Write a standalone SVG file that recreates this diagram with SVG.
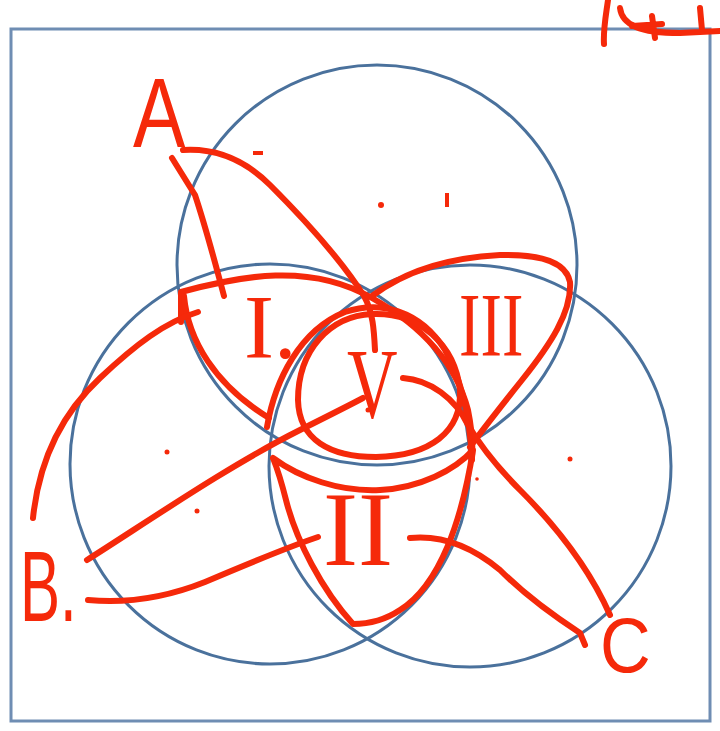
<svg xmlns="http://www.w3.org/2000/svg" width="720" height="731" viewBox="0 0 720 731">
<style>
.frame{fill:none;stroke:#6f8db3;stroke-width:3}
.set{fill:none;stroke:#4a719c;stroke-width:3}
.ink{fill:none;stroke:#f5290a;stroke-width:6;stroke-linecap:round;stroke-linejoin:round}
.dot{fill:#f5290a}
.lbl{fill:#f5290a;font-family:"Liberation Sans",Arial,sans-serif}
.num{fill:#f5290a;font-family:"Liberation Serif","Times New Roman",serif}
</style>
<rect width="720" height="731" fill="#ffffff"/>
<rect class="frame" x="11" y="29" width="699" height="692"/>
<g id="sets">
<circle id="set-A" class="set" cx="377" cy="265" r="200"/>
<circle id="set-B" class="set" cx="270" cy="464" r="200"/>
<circle id="set-C" class="set" cx="470" cy="466" r="201"/>
</g>
<g id="strokes">
<path class="ink" d="M183,150 C215,148 245,160 270,185 C300,215 340,258 364,296 C373,312 374,330 375,350"/>
<path class="ink" d="M172,158 L195,195 C205,225 215,262 224,296"/>
<path class="ink" d="M181,322 L181,292 C240,276 310,262 372,298 C420,325 455,360 468,410 C472,430 473,445 472,458"/>
<path class="ink" d="M184,296 C188,340 215,385 269,418"/>
<path class="ink" d="M267,427 C275,380 300,330 345,312 C380,300 420,310 445,350 C462,380 470,420 472,460"/>
<path class="ink" d="M273,458 C300,478 340,492 380,490 C420,488 455,470 473,450 C462,520 440,585 400,610 C385,620 368,624 353,624 C322,590 296,540 286,500 C281,480 277,468 273,458"/>
<path class="ink" d="M372,296 C400,275 440,258 500,255 C540,254 566,262 570,282 C572,312 550,345 522,380 C502,405 486,425 470,447"/>
<path class="ink" d="M298,400 C298,350 330,316 372,314 C420,312 455,345 460,390 C462,432 430,456 376,457 C330,457 299,440 298,400 Z"/>
<path class="ink" d="M87,560 C150,520 230,465 300,430 C330,415 350,405 363,398"/>
<path class="ink" d="M88,600 C120,603 160,600 205,582 C245,565 285,548 318,537"/>
<path class="ink" d="M33,518 C38,470 55,420 100,378 C135,345 165,322 198,312"/>
<path class="ink" d="M403,378 C430,380 455,398 468,425 C480,445 500,470 520,490 C560,530 590,570 610,615"/>
<path class="ink" d="M410,538 C440,535 470,545 500,570 C530,600 560,620 580,633 L585,645"/>
<path class="ink" d="M604,44 C603,30 606,15 608,0 M620,8 C622,25 640,33 680,33 L720,31 M652,16 L655,38 M632,26 L662,24 M700,8 L702,30"/>
</g>
<g id="marks">
<rect class="dot" x="253" y="151" width="10" height="4"/>
<circle class="dot" cx="381" cy="205" r="3"/>
<rect class="dot" x="445" y="193" width="4" height="14"/>
<circle class="dot" cx="167" cy="452" r="2.5"/>
<circle class="dot" cx="197" cy="511" r="2.5"/>
<circle class="dot" cx="570" cy="459" r="2.5"/>
<circle class="dot" cx="477" cy="479" r="1.8"/>
<circle class="dot" cx="368" cy="410" r="2.5"/>
</g>
<g id="labels">
<text class="lbl" font-size="98" transform="translate(133,147) scale(0.8,1)">A</text>
<text class="lbl" font-size="100" transform="translate(20,621) scale(0.6,1)">B.</text>
<text class="lbl" font-size="78" transform="translate(600,672) scale(0.9,1)">C</text>
</g>
<g id="regions">
<text class="num" font-size="90" transform="translate(244,358)">I.</text>
<text class="num" font-size="92" transform="translate(459,356) scale(0.7,1)">III</text>
<text class="num" font-size="100" transform="translate(347,417) scale(0.7,1)">V</text>
<text class="num" font-size="105" transform="translate(323,565)">II</text>
</g>
</svg>
